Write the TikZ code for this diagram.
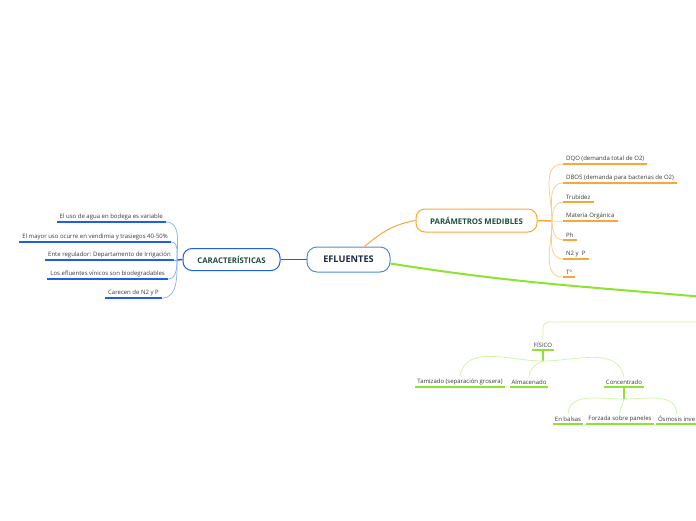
\documentclass[tikz,border=0pt]{standalone}
\usepackage{fontspec}
\setmainfont{Open Sans}
\usepackage{tikz}
\usetikzlibrary{positioning}

\definecolor{azul}{HTML}{1F5FE6}
\definecolor{azulclaro}{HTML}{8DB0F2}
\definecolor{celeste}{HTML}{4A90D9}
\definecolor{naranja}{HTML}{F8A83A}
\definecolor{naranjaclaro}{HTML}{FCCB85}
\definecolor{verde}{HTML}{8EE330}
\definecolor{verdeclaro}{HTML}{CDF5A0}
\definecolor{tinta}{HTML}{1B2A49}
\definecolor{pino}{HTML}{1E4D40}
\definecolor{gris}{HTML}{3A3A3A}

\tikzset{
  raiz/.style={draw=celeste, line width=1pt, rounded corners=10pt, fill=white,
    minimum width=83pt, minimum height=25pt, inner sep=0pt,
    font=\fontsize{9.2}{10}\selectfont\bfseries, text=tinta},
  tema/.style={draw=#1, line width=1pt, rounded corners=9pt, fill=white,
    minimum height=22pt, inner sep=0pt,
    font=\fontsize{7.8}{8}\selectfont\bfseries, text=pino},
  hoja/.style={inner xsep=3pt, inner ysep=2.2pt,
    font=\fontsize{6}{7}\selectfont, text=gris},
  hojita/.style={hoja, inner xsep=1.8pt},
  subrayado/.style={draw=#1, line width=1.5pt},
  rama/.style={draw=#1, line width=0.7pt},
  tronco/.style={draw=#1, line width=2pt}
}

\begin{document}
\begin{tikzpicture}[x=1pt, y=-1pt]
  \useasboundingbox (0,0) rectangle (696,520);
  \fill[white] (0,0) rectangle (696,520);
  \clip (0,0) rectangle (696,520);

  % centro y temas
  \node[raiz] (efl) at (348.5,259.5) {EFLUENTES};
  \node[tema=azul, minimum width=97pt] (car) at (231.5,259.5) {CARACTERÍSTICAS};
  \node[tema=naranja, minimum width=121pt, minimum height=23pt] (par) at (476.5,220.5) {PARÁMETROS MEDIBLES};

  \coordinate (jc) at (177,260);
  \coordinate (jp) at (552,221);
  \coordinate (offA) at (704,297);
  \coordinate (offB) at (704,322);

  \draw[azul, line width=1pt] (efl.west) -- (car.east);
  \draw[azul, line width=1.5pt] (car.west) -- (jc);
  \draw[naranja, line width=1pt] ([xshift=-26pt]efl.north east) to[out=40,in=190] (par.west);
  \draw[naranja, line width=1.5pt] (par.east) -- (jp);
  \draw[tronco=verde] ([yshift=-4pt]efl.east) to[out=-9,in=175] (offA);

  % caracteristicas
  \node[hoja, anchor=south east] (c1) at (166,222) {El uso de agua en bodega es variable};
  \node[hoja, anchor=south east] (c2) at (171,242) {El mayor uso ocurre en vendimia y trasiegos 40-50\%};
  \node[hoja, anchor=south east] (c3) at (174,260) {Ente regulador: Departamento de Irrigación};
  \node[hoja, anchor=south east] (c4) at (168,279) {Los efluentes vínicos son biodegradables};
  \node[hoja, anchor=south east] (c5) at (162,298) {Carecen de N2 y P};

  \foreach \n in {c1,c2,c3,c4,c5}
    \draw[subrayado=azul] (\n.south west) -- (\n.south east);
  \foreach \n/\o in {c1/90,c2/90,c4/270,c5/270}
    \draw[rama=azulclaro] (jc) to[out=\o,in=0] (\n.south east);
  \draw[rama=azulclaro] (jc) -- (c3.south east);

  % parametros
  \node[hoja, anchor=south west] (p1) at (563,164) {DQO (demanda total de O2)};
  \node[hoja, anchor=south west] (p2) at (563,183) {DBO5 (demanda para bacterias de O2)};
  \node[hoja, anchor=south west] (p3) at (563,202) {Trubidez};
  \node[hoja, anchor=south west] (p4) at (563,221) {Materia Orgánica};
  \node[hoja, anchor=south west] (p5) at (563,240) {Ph};
  \node[hoja, anchor=south west] (p6) at (563,259) {N2 y~~P};
  \node[hoja, anchor=south west] (p7) at (563,277) {Tº};

  \foreach \n in {p1,p2,p3,p4,p5,p6,p7}
    \draw[subrayado=naranja] (\n.south west) -- (\n.south east);
  \foreach \n/\o in {p1/90,p2/90,p3/90,p5/270,p6/270,p7/270}
    \draw[rama=naranjaclaro] (jp) to[out=\o,in=180] (\n.south west);
  \draw[rama=naranjaclaro!60] (jp) -- (p4.south west);

  % fisico
  \node[hojita, anchor=south] (fis) at (543,350) {FÍSICO};
  \node[hojita, anchor=south] (tam) at (460,387) {Tamizado (separación grosera)};
  \node[hojita, anchor=south] (alm) at (529,387) {Almacenado};
  \node[hojita, anchor=south] (con) at (624,387) {Concentrado};
  \node[hojita, anchor=south] (bal) at (568,424) {En balsas};
  \node[hojita, anchor=south] (forz) at (620,424) {Forzada sobre paneles};
  \node[hojita, anchor=south west] (osm) at (656,424) {Ósmosis inve};

  \coordinate[below=11pt of fis.south] (jf);
  \coordinate[below=12pt of con.south] (jk);

  \draw[rama=verdeclaro, rounded corners=6pt] (offB) -- (offB -| fis.north) -- (fis.north);
  \foreach \n in {fis,tam,alm,con,bal,forz,osm}
    \draw[subrayado=verde] (\n.south west) -- (\n.south east);
  \draw[tronco=verde] (fis.south) -- (jf);
  \draw[tronco=verde] (con.south) -- (jk);

  \draw[rama=verdeclaro] (jf) to[out=180,in=80] (tam.north);
  \draw[rama=verdeclaro] (jf) to[out=200,in=90] (alm.north);
  \draw[rama=verdeclaro] (jf) to[out=0,in=100] (con.north);
  \draw[rama=verdeclaro] (jk) to[out=180,in=90] (bal.north);
  \draw[rama=verdeclaro] (jk) to[out=260,in=90] (forz.north);
  \draw[rama=verdeclaro] (jk) to[out=0,in=90] (osm.north);
\end{tikzpicture}
\end{document}
